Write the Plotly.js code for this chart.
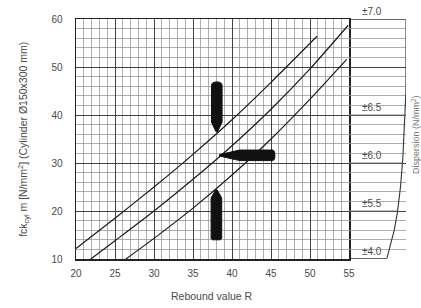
<!DOCTYPE html>
<html>
<head>
<meta charset="utf-8">
<script src="https://cdn.plot.ly/plotly-3.0.1.min.js"></script>
<style>html,body{margin:0;padding:0;background:#fff;}#chart{width:421px;height:308px;}</style>
</head>
<body>
<div id="chart"></div>
<script>
// Upper scatter band limit
const upperR = [20, 25, 30, 35, 40, 45, 50.9];
const upperF = [12.2, 18.5, 25.0, 31.8, 39.0, 46.8, 56.4];
// Mean curve
const meanR = [21.9, 25, 30, 35, 40, 45, 50, 54.9];
const meanF = [10.0, 13.8, 20.0, 26.6, 33.6, 41.2, 49.6, 58.7];
// Lower scatter band limit
const lowerR = [26.4, 30, 35, 40, 45, 50, 54.7];
const lowerF = [10.0, 14.3, 20.6, 27.5, 35.0, 43.3, 51.6];

// Dispersion panel (right)
const dispLevels = [10, 20, 30, 40, 60];
const dispLabels = ['±4.0', '±5.5', '±6.0', '±6.5', '±7.0'];
const dispEdgeF = [10.2, 13, 16, 19.6, 25, 31, 37, 45, 59.8];
const dispEdgeX = [59.87, 60.3, 60.8, 61.2, 61.6, 61.9, 62.1, 62.3, 62.31];

// Hammer direction icons: [centre R, centre f, direction]
const iconR = [38.05, 38.4, 38.0];
const iconF = [36.5, 31.6, 24.4];
const iconDir = ['down', 'left', 'up'];

const xTicks = [20, 25, 30, 35, 40, 45, 50, 55];
const yTicks = [10, 20, 30, 40, 50, 60];

const ink = '#1a1a1a';
const txt = '#4a4a4a';
const font = {family: 'Liberation Sans, Arial, sans-serif', size: 10, color: txt};

function curve(x, y) {
  return {x: x, y: y, type: 'scatter', mode: 'lines', xaxis: 'x', yaxis: 'y',
    line: {color: ink, width: 1.2, shape: 'spline', smoothing: 0.6}, hoverinfo: 'skip', showlegend: false};
}

function edgeAt(f) {
  for (let i = 0; i < dispEdgeF.length - 1; i++) {
    if (f >= dispEdgeF[i] && f <= dispEdgeF[i + 1]) {
      const t = (f - dispEdgeF[i]) / (dispEdgeF[i + 1] - dispEdgeF[i]);
      return dispEdgeX[i] + t * (dispEdgeX[i + 1] - dispEdgeX[i]);
    }
  }
  return f < dispEdgeF[0] ? dispEdgeX[0] : dispEdgeX[dispEdgeX.length - 1];
}

const traces = [curve(upperR, upperF), curve(meanR, meanF), curve(lowerR, lowerF)];

// right panel outline
traces.push({x: dispEdgeX, y: dispEdgeF, type: 'scatter', mode: 'lines', xaxis: 'x2', yaxis: 'y',
  line: {color: '#333', width: 1.1, shape: 'linear'}, hoverinfo: 'skip', showlegend: false});
dispLevels.forEach(function (lv) {
  traces.push({x: [55, edgeAt(lv)], y: [lv, lv], type: 'scatter', mode: 'lines', xaxis: 'x2', yaxis: 'y',
    line: {color: lv === 10 || lv === 60 ? '#333' : '#777', width: lv === 10 || lv === 60 ? 1.3 : 0.9},
    hoverinfo: 'skip', showlegend: false});
});

// icons as filled paths
const shapes = [];
const hw = 0.68, hh = 1.1;
iconDir.forEach(function (d, i) {
  const cx = iconR[i], cy = iconF[i];
  let p;
  if (d === 'down') {
    const tip = cy, b0 = cy + 2.0, top = 46.9;
    p = `M ${cx - hw},${b0} L ${cx - hw},${top - 0.8} Q ${cx - hw},${top} ${cx},${top} Q ${cx + hw},${top} ${cx + hw},${top - 0.8} L ${cx + hw},${b0} L ${cx + 0.1},${tip} L ${cx - 0.1},${tip} Z`;
  } else if (d === 'up') {
    const tip = cy, b0 = cy - 1.7, bot = 14.0;
    p = `M ${cx - hw},${b0} L ${cx - hw},${bot + 0.3} L ${cx - hw + 0.15},${bot} L ${cx + hw - 0.15},${bot} L ${cx + hw},${bot + 0.3} L ${cx + hw},${b0} L ${cx + 0.1},${tip} L ${cx - 0.1},${tip} Z`;
  } else {
    const tip = cx, b0 = cx + 2.6, end = 45.5;
    p = `M ${b0},${cy - hh} L ${end - 0.3},${cy - hh} Q ${end},${cy - hh} ${end},${cy} Q ${end},${cy + hh} ${end - 0.3},${cy + hh} L ${b0},${cy + hh} L ${tip},${cy + 0.15} L ${tip},${cy - 0.15} Z`;
  }
  shapes.push({type: 'path', xref: 'x', yref: 'y', path: p, fillcolor: '#111', line: {color: '#111', width: 1}});
});

const annotations = [];
dispLevels.forEach(function (lv, i) {
  annotations.push({x: 57.9, y: lv, xref: 'x2', yref: 'y', text: dispLabels[i], showarrow: false,
    xanchor: 'center', yanchor: 'bottom', font: {family: font.family, size: 10, color: txt}});
});
annotations.push({x: -0.158, y: 0.5, xref: 'paper', yref: 'paper', xanchor: 'center', yanchor: 'middle',
  text: 'fck<sub>cyl</sub> m [N/mm<sup>2</sup>] (Cylinder Ø150x300 mm)', textangle: -90, showarrow: false,
  font: {family: font.family, size: 10.5, color: txt}});
annotations.push({x: 0.4136, y: -0.154, xref: 'paper', yref: 'paper', xanchor: 'center', yanchor: 'middle',
  text: 'Rebound value R', showarrow: false, font: {family: font.family, size: 10.5, color: txt}});
annotations.push({x: 1.03, y: 0.52, xref: 'paper', yref: 'paper', xanchor: 'center', yanchor: 'middle',
  text: 'Dispersion (N/mm<sup>2</sup>)', textangle: -90, showarrow: false,
  font: {family: font.family, size: 9, color: '#777'}});

const split = (349 - 76) / 330;
const layout = {
  width: 421, height: 308,
  margin: {l: 76, r: 15, t: 19, b: 49, pad: 0},
  paper_bgcolor: '#fff', plot_bgcolor: '#fff',
  font: font,
  showlegend: false,
  xaxis: {domain: [0, split], range: [20, 55], tickvals: xTicks, ticktext: xTicks.map(String),
    showgrid: true, gridcolor: '#444', gridwidth: 1,
    minor: {dtick: 1, tick0: 20, showgrid: true, gridcolor: '#9a9a9a', gridwidth: 0.8},
    showline: true, mirror: true, linecolor: '#222', linewidth: 1.5,
    ticks: 'outside', ticklen: 4, tickcolor: 'rgba(0,0,0,0)', zeroline: false, fixedrange: true,
    tickfont: {family: font.family, size: 10, color: txt}},
  xaxis2: {domain: [split, 1], range: [55, 55 + 57 / 7.8], anchor: 'y', visible: false, fixedrange: true},
  yaxis: {range: [10, 60], tickvals: yTicks, ticktext: yTicks.map(String),
    showgrid: true, gridcolor: '#444', gridwidth: 1,
    minor: {dtick: 2, tick0: 10, showgrid: true, gridcolor: '#9a9a9a', gridwidth: 0.8},
    showline: true, mirror: true, linecolor: '#222', linewidth: 1.5,
    ticks: 'outside', ticklen: 10, tickcolor: 'rgba(0,0,0,0)', zeroline: false, fixedrange: true,
    tickfont: {family: font.family, size: 10, color: txt}},
  shapes: shapes,
  annotations: annotations
};

Plotly.newPlot('chart', traces, layout, {staticPlot: true, displayModeBar: false});
</script>
</body>
</html>
